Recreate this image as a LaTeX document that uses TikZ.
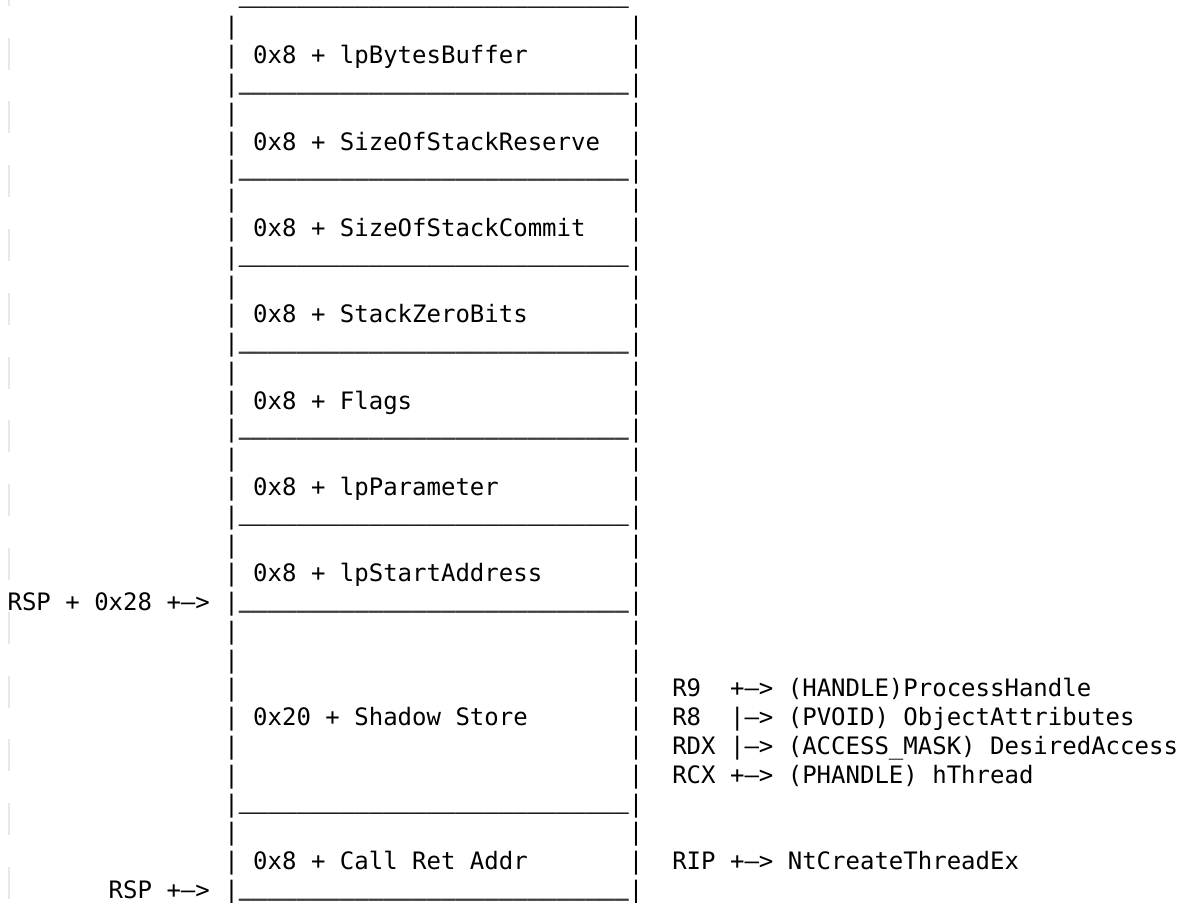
\documentclass[tikz,border=0pt]{standalone}
\usepackage{fontspec}
\newfontfamily\asciimono{DejaVu Sans Mono}
\newcommand\ninebars{\_\_\_\_\_\_\_\_\_}
\newcommand\floorbars{\ninebars\ninebars\ninebars}
\newcommand\arr{+\textendash>}
\newcommand\barr{|\textendash>}
\newcommand\cellnode[4]{\node[txt] (#1) at ({7.6+#2*14.449},{6.2+#3*28.78}) {#4};}
\newcommand\floornode[3]{%
  \node[txt] (#1) at ({7.6+#2*14.449},{2.2+#3*28.78}) {\floorbars};%
  \node[txt] (#1b) at ({7.6+#2*14.449},{2.9+#3*28.78}) {\floorbars};}
\begin{document}
\begin{tikzpicture}[x=0.5pt,y=-0.5pt,
  txt/.style={anchor=base west, inner sep=0pt, outer sep=0pt,
    font=\asciimono\fontsize{12pt}{14.4pt}\selectfont},
  gutter/.style={draw=black!9, line width=0.75pt}]
\useasboundingbox (0,0) rectangle (1182,902);
% faint gutter marks
\foreach \k in {0,...,14} \draw[gutter] (9,{37.5+(\k-1)*63.8}) -- ++(0,32);
% top edge
\floornode{top}{16}{0}
% side bars
\foreach \r in {1,2,3,4,5,6,7,8,9,10,11,12,13,14,15,16,17,18,19,20,21,22,23,24,25,26,27,28,29,30,31}{
  \cellnode{lb\r}{15}{\r}{|}
  \cellnode{rb\r}{43}{\r}{|}
}
% floors
\foreach \r in {3,6,9,12,15,18,21,28,31}{
  \floornode{fl\r}{16}{\r}
}
% slot labels
\cellnode{s1}{17}{2}{0x8 + lpBytesBuffer}
\cellnode{s2}{17}{5}{0x8 + SizeOfStackReserve}
\cellnode{s3}{17}{8}{0x8 + SizeOfStackCommit}
\cellnode{s4}{17}{11}{0x8 + StackZeroBits}
\cellnode{s5}{17}{14}{0x8 + Flags}
\cellnode{s6}{17}{17}{0x8 + lpParameter}
\cellnode{s7}{17}{20}{0x8 + lpStartAddress}
\cellnode{s8}{17}{25}{0x20 + Shadow Store}
\cellnode{s9}{17}{30}{0x8 + Call Ret Addr}
% stack pointers
\cellnode{rsp28}{0}{21}{RSP + 0x28 \arr}
\cellnode{rsp}{7}{31}{RSP \arr}
% registers
\cellnode{r9}{46}{24}{R9}
\cellnode{r9v}{50}{24}{\arr{} (HANDLE)ProcessHandle}
\cellnode{r8}{46}{25}{R8}
\cellnode{r8v}{50}{25}{\barr{} (PVOID) ObjectAttributes}
\cellnode{rdx}{46}{26}{RDX \barr{} (ACCESS\_MASK) DesiredAccess}
\cellnode{rcx}{46}{27}{RCX \arr{} (PHANDLE) hThread}
\cellnode{rip}{46}{30}{RIP \arr{} NtCreateThreadEx}
\end{tikzpicture}
\end{document}
